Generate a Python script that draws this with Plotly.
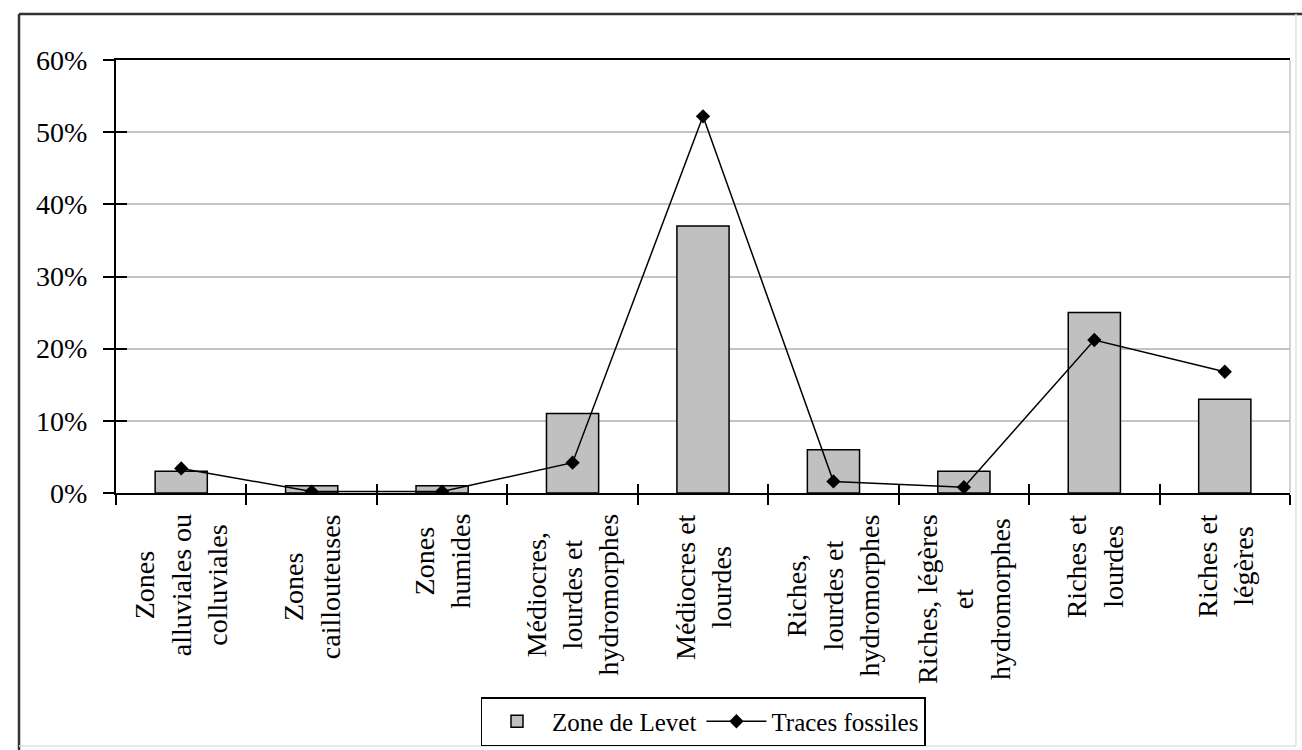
import plotly.graph_objects as go

categories = [
    "Zones<br>alluviales ou<br>colluviales",
    "Zones<br>caillouteuses",
    "Zones<br>humides",
    "Médiocres,<br>lourdes et<br>hydromorphes",
    "Médiocres et<br>lourdes",
    "Riches,<br>lourdes et<br>hydromorphes",
    "Riches, légères<br>et<br>hydromorphes",
    "Riches et<br>lourdes",
    "Riches et<br>légères",
]
zone_levet = [0.03, 0.01, 0.01, 0.11, 0.37, 0.06, 0.03, 0.25, 0.13]
traces_fossiles = [0.034, 0.002, 0.002, 0.042, 0.522, 0.016, 0.008, 0.212, 0.168]
y_ticks = [0, 0.1, 0.2, 0.3, 0.4, 0.5, 0.6]

FONT = "Liberation Serif, Times New Roman, serif"
W, H = 1302, 750
ML, MR, MT, MB = 116, 12, 60, 257
PW, PH = W - ML - MR, H - MT - MB

def px_x(px):
    return (px - ML) / PW

def px_y(py):
    return (H - MB - py) / PH

fig = go.Figure()
fig.add_trace(go.Bar(
    x=categories, y=zone_levet, name="Zone de Levet",
    width=0.4, marker=dict(color="#c0c0c0", line=dict(color="black", width=1.5)),
    xaxis="x", yaxis="y",
))
fig.add_trace(go.Scatter(
    x=categories, y=traces_fossiles, name="Traces fossiles",
    mode="lines+markers",
    line=dict(color="black", width=1.5),
    marker=dict(symbol="diamond", size=11, color="black"),
    xaxis="x2", yaxis="y2",
))

cat_range = [-0.5, len(categories) - 0.5]
fig.update_layout(
    width=W, height=H,
    margin=dict(l=ML, r=MR, t=MT, b=MB, autoexpand=False),
    paper_bgcolor="white", plot_bgcolor="white",
    font=dict(family=FONT, size=27, color="black"),
    showlegend=True,
    legend=dict(
        orientation="h", x=0.5, xanchor="center", y=px_y(746), yanchor="bottom",
        bordercolor="black", borderwidth=1.5, bgcolor="white",
        font=dict(family=FONT, size=25, color="black"),
        itemwidth=60, tracegroupgap=0,
    ),
    xaxis=dict(
        type="category", categoryorder="array", categoryarray=categories,
        range=cat_range, showticklabels=False,
        ticks="outside", ticklen=10, tickwidth=1.5, tickcolor="black",
        tickson="boundaries",
        showline=True, linecolor="black", linewidth=2, mirror=True,
        showgrid=False, zeroline=False, fixedrange=True,
    ),
    yaxis=dict(
        range=[0, 0.6], tickvals=y_ticks, tickformat=".0%",
        ticks="outside", ticklen=11, tickwidth=1.5, tickcolor="black",
        ticklabelstandoff=10,
        showline=True, linecolor="black", linewidth=2,
        showgrid=True, gridcolor="#c4c4c4", gridwidth=2,
        zeroline=False, fixedrange=True,
        tickfont=dict(family=FONT, size=28, color="black"),
    ),
    xaxis2=dict(
        type="category", categoryorder="array", categoryarray=categories,
        range=cat_range, overlaying="x", anchor="y2", side="bottom",
        showticklabels=False, ticks="inside", ticklen=9, tickwidth=1.5,
        tickcolor="black", tickson="boundaries",
        showline=False, showgrid=False, zeroline=False, fixedrange=True,
    ),
    yaxis2=dict(
        range=[0, 0.6], tickvals=y_ticks, overlaying="y", anchor="x2", side="left",
        showticklabels=False, ticks="inside", ticklen=11, tickwidth=1.5,
        tickcolor="black", showline=False, showgrid=False, zeroline=False,
        fixedrange=True,
    ),
)

# Category labels (centered multi-line, rotated)
for cat in categories:
    fig.add_annotation(
        x=cat, y=0, xref="x", yref="y", text=cat, showarrow=False,
        textangle=-90, align="center", xanchor="center", yanchor="top",
        yshift=-19, font=dict(family=FONT, size=28, color="black"),
    )

# right border of plot area
fig.add_shape(type="line", xref="paper", yref="paper", x0=1, x1=1, y0=0, y1=1,
              line=dict(color="#c4c4c4", width=1.5))
# outer chart border
x_l, x_r = px_x(19), px_x(1296)
y_t, y_b = px_y(14), px_y(746)
fig.add_shape(type="line", xref="paper", yref="paper", x0=x_l, x1=px_x(1302), y0=y_t, y1=y_t,
              line=dict(color="#333333", width=2.5))
fig.add_shape(type="line", xref="paper", yref="paper", x0=x_l, x1=x_l, y0=px_y(750), y1=y_t,
              line=dict(color="#333333", width=2.5))
fig.add_shape(type="line", xref="paper", yref="paper", x0=x_r, x1=x_r, y0=y_b, y1=y_t,
              line=dict(color="#e0e0e0", width=1.5))
fig.add_shape(type="line", xref="paper", yref="paper", x0=x_l, x1=x_r, y0=y_b, y1=y_b,
              line=dict(color="#e0e0e0", width=1.5))

fig.write_html("out.html", post_script="document.body.style.margin='0px';",
               config={"displayModeBar": False})
